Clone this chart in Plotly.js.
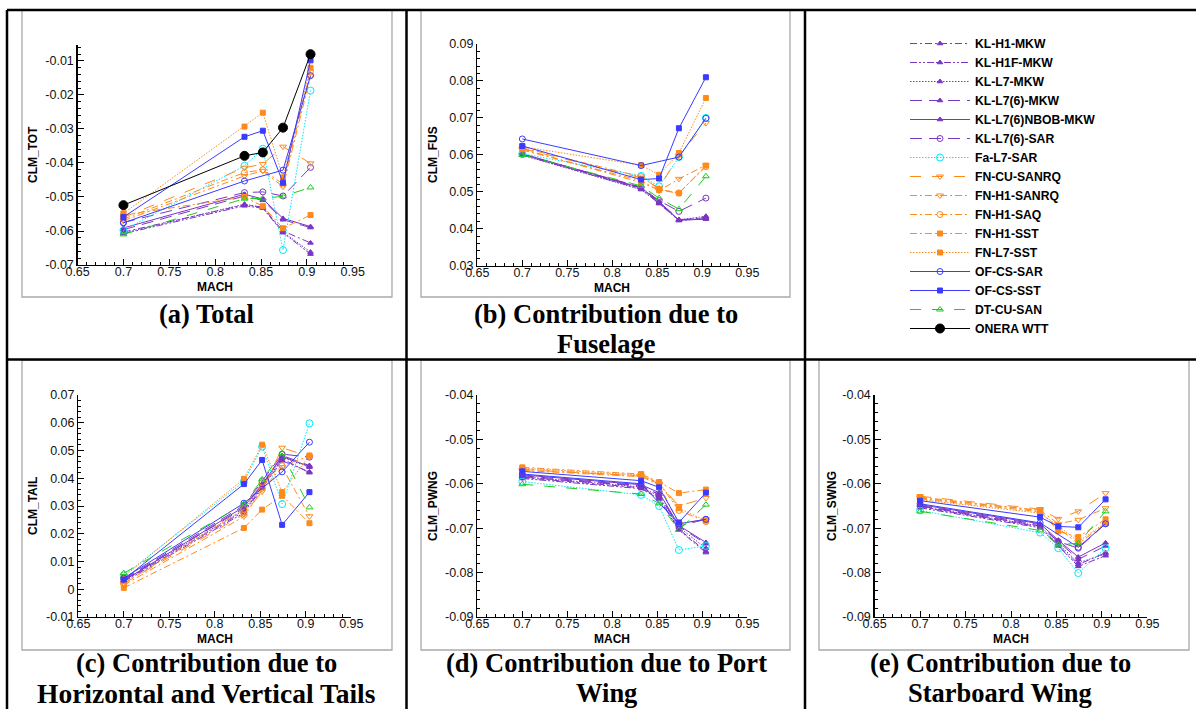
<!DOCTYPE html>
<html>
<head>
<meta charset="utf-8">
<script src="https://cdn.plot.ly/plotly-3.0.1.min.js"></script>
<style>
  html, body { margin: 0; padding: 0; background: #ffffff; }
  #chart { width: 1196px; height: 709px; }
</style>
</head>
<body>
<div id="chart"></div>
<script>
// Mach sweep shared by every panel
const mach = [0.7, 0.832, 0.852, 0.874, 0.904];

const seriesNames = [
  'KL-H1-MKW', 'KL-H1F-MKW', 'KL-L7-MKW', 'KL-L7(6)-MKW', 'KL-L7(6)NBOB-MKW',
  'KL-L7(6)-SAR', 'Fa-L7-SAR', 'FN-CU-SANRQ', 'FN-H1-SANRQ', 'FN-H1-SAQ',
  'FN-H1-SST', 'FN-L7-SST', 'OF-CS-SAR', 'OF-CS-SST', 'DT-CU-SAN', 'ONERA WTT'
];

// Pitching-moment coefficients, one row per entry of seriesNames
const clmTot = [
  [-0.0603, -0.0523, -0.0530, -0.0600, -0.0635],
  [-0.0608, -0.0526, -0.0533, -0.0605, -0.0668],
  [-0.0606, -0.0521, -0.0531, -0.0603, -0.0662],
  [-0.0596, -0.0497, -0.0510, -0.0567, -0.0590],
  [-0.0591, -0.0492, -0.0506, -0.0563, -0.0587],
  [-0.0575, -0.0487, -0.0485, -0.0497, -0.0413],
  [-0.0598, -0.0408, -0.0358, -0.0656, -0.0187],
  [-0.0560, -0.0414, -0.0403, -0.0352, -0.0401],
  [-0.0570, -0.0438, -0.0423, -0.0470, -0.0145],
  [-0.0565, -0.0428, -0.0420, -0.0462, -0.0130],
  [-0.0553, -0.0500, -0.0527, -0.0592, -0.0553],
  [-0.0548, -0.0293, -0.0252, -0.0442, -0.0120],
  [-0.0576, -0.0453, null,    -0.0421, -0.0143],
  [-0.0559, -0.0323, -0.0305, -0.0458, -0.0098],
  [-0.0610, -0.0505, -0.0504, -0.0498, -0.0472],
  [-0.0524, -0.0379, -0.0369, -0.0296, -0.0080]
];

const clmFus = [
  [0.0601, 0.0509, 0.0470, 0.0423, 0.0431],
  [0.0600, 0.0507, 0.0468, 0.0422, 0.0428],
  [0.0599, 0.0506, 0.0469, 0.0424, 0.0434],
  [0.0602, 0.0510, 0.0473, 0.0425, 0.0427],
  [0.0603, 0.0511, 0.0474, 0.0423, 0.0426],
  [0.0601, 0.0513, 0.0476, 0.0447, 0.0483],
  [0.0603, 0.0543, 0.0515, 0.0594, 0.0700],
  [0.0617, 0.0538, 0.0510, 0.0598, 0.0686],
  [0.0613, 0.0530, 0.0503, 0.0535, 0.0572],
  [0.0619, 0.0541, 0.0507, 0.0497, 0.0568],
  [0.0616, 0.0525, 0.0505, 0.0496, 0.0571],
  [0.0622, 0.0572, 0.0546, 0.0605, 0.0754],
  [0.0643, 0.0571, null,   0.0594, 0.0699],
  [0.0624, 0.0533, 0.0536, 0.0672, 0.0810],
  [0.0600, 0.0516, 0.0483, 0.0453, 0.0542],
  null
];

const clmTail = [
  [0.0030, 0.0280, 0.0368, 0.0470, 0.0420],
  [0.0027, 0.0275, 0.0364, 0.0463, 0.0423],
  [0.0032, 0.0285, 0.0371, 0.0475, 0.0440],
  [0.0034, 0.0292, 0.0376, 0.0482, 0.0446],
  [0.0031, 0.0297, 0.0379, 0.0478, 0.0443],
  [0.0036, 0.0302, 0.0390, 0.0487, 0.0476],
  [0.0050, 0.0388, 0.0514, 0.0307, 0.0598],
  [0.0021, 0.0270, 0.0352, 0.0510, 0.0478],
  [0.0015, 0.0262, 0.0360, 0.0440, 0.0263],
  [0.0020, 0.0288, 0.0385, 0.0445, 0.0480],
  [0.0005, 0.0221, 0.0287, 0.0337, 0.0238],
  [0.0045, 0.0398, 0.0521, 0.0350, 0.0482],
  [0.0040, 0.0310, null,   0.0423, 0.0530],
  [0.0035, 0.0379, 0.0466, 0.0232, 0.0350],
  [0.0058, 0.0307, 0.0396, 0.0490, 0.0295],
  null
];

const clmPwng = [
  [-0.0586, -0.0609, -0.0632, -0.0702, -0.0752],
  [-0.0588, -0.0611, -0.0634, -0.0704, -0.0755],
  [-0.0584, -0.0607, -0.0628, -0.0698, -0.0745],
  [-0.0582, -0.0604, -0.0624, -0.0696, -0.0735],
  [-0.0580, -0.0602, -0.0620, -0.0694, -0.0732],
  [-0.0585, -0.0605, -0.0625, -0.0695, -0.0680],
  [-0.0595, -0.0625, -0.0650, -0.0749, -0.0740],
  [-0.0568, -0.0583, -0.0600, -0.0650, -0.0632],
  [-0.0570, -0.0584, -0.0602, -0.0690, -0.0680],
  [-0.0567, -0.0582, -0.0599, -0.0660, -0.0685],
  [-0.0563, -0.0578, -0.0596, -0.0621, -0.0613],
  [-0.0565, -0.0580, -0.0598, -0.0655, -0.0683],
  [-0.0578, -0.0600, null,    -0.0690, -0.0680],
  [-0.0572, -0.0593, -0.0608, -0.0687, -0.0620],
  [-0.0601, -0.0623, -0.0644, -0.0704, -0.0647],
  null
];

const clmSwng = [
  [-0.0652, -0.0697, -0.0738, -0.0782, -0.0755],
  [-0.0654, -0.0699, -0.0740, -0.0786, -0.0762],
  [-0.0651, -0.0695, -0.0735, -0.0778, -0.0758],
  [-0.0649, -0.0692, -0.0730, -0.0770, -0.0740],
  [-0.0647, -0.0690, -0.0727, -0.0765, -0.0733],
  [-0.0650, -0.0695, -0.0730, -0.0745, -0.0690],
  [-0.0660, -0.0710, -0.0745, -0.0801, -0.0745],
  [-0.0628, -0.0657, -0.0679, -0.0662, -0.0621],
  [-0.0632, -0.0660, -0.0690, -0.0681, -0.0655],
  [-0.0634, -0.0663, -0.0700, -0.0735, -0.0690],
  [-0.0630, -0.0660, -0.0707, -0.0720, -0.0680],
  [-0.0636, -0.0666, -0.0695, -0.0730, -0.0688],
  [-0.0645, -0.0688, null,    -0.0743, -0.0690],
  [-0.0638, -0.0675, -0.0696, -0.0698, -0.0635],
  [-0.0662, -0.0705, -0.0737, -0.0734, -0.0662],
  null
];

// Tick labels
const machTicks = ['0.65', '0.7', '0.75', '0.8', '0.85', '0.9', '0.95'];
const totTicks  = ['-0.07', '-0.06', '-0.05', '-0.04', '-0.03', '-0.02', '-0.01'];
const fusTicks  = ['0.03', '0.04', '0.05', '0.06', '0.07', '0.08', '0.09'];
const tailTicks = ['-0.01', '0', '0.01', '0.02', '0.03', '0.04', '0.05', '0.06', '0.07'];
const wingTicks = ['-0.09', '-0.08', '-0.07', '-0.06', '-0.05', '-0.04'];

// Panel captions and axis titles
const captions = [
  ['(a) Total'],
  ['(b) Contribution due to', 'Fuselage'],
  ['(c) Contribution due to', 'Horizontal and Vertical Tails'],
  ['(d) Contribution due to Port', 'Wing'],
  ['(e) Contribution due to', 'Starboard Wing']
];
const yTitles = ['CLM_TOT', 'CLM_FUS', 'CLM_TAIL', 'CLM_PWNG', 'CLM_SWNG'];
const xTitle = 'MACH';

// ---------- styling ----------
const W = 1196, H = 709;
const px = x => x / W;
const py = y => 1 - y / H;

const PURPLE = '#7a36c4', CYAN = '#00e8ff', ORANGE = '#ff8a1c',
      BLUE = '#3b3bff', GREEN = '#1fcc1f', BLACK = '#000000';

const DASHDOT = '7px,3px,2px,3px';
const DASHDOTDOT = '7px,2px,2px,2px,2px,2px';
const DOTTED = '1.5px,1.5px';
const LONGDASH = '12px,7px';
const WIDEDASH = '11px,11px';

const styles = [
  { color: PURPLE, dash: DASHDOT,    symbol: 'triangle-up',        size: 5 },
  { color: PURPLE, dash: DASHDOTDOT, symbol: 'triangle-up',        size: 5 },
  { color: PURPLE, dash: DOTTED,     symbol: 'triangle-up',        size: 5 },
  { color: PURPLE, dash: LONGDASH,   symbol: 'triangle-up',        size: 5 },
  { color: PURPLE, dash: 'solid',    symbol: 'triangle-up',        size: 5 },
  { color: PURPLE, dash: LONGDASH,   symbol: 'circle-open',        size: 6 },
  { color: CYAN,   dash: DOTTED,     symbol: 'circle-open',        size: 7 },
  { color: ORANGE, dash: WIDEDASH,   symbol: 'triangle-down-open', size: 6 },
  { color: ORANGE, dash: DASHDOT,    symbol: 'triangle-down-open', size: 6 },
  { color: ORANGE, dash: DASHDOT,    symbol: 'circle-open',        size: 6 },
  { color: ORANGE, dash: DASHDOT,    symbol: 'square',             size: 5 },
  { color: ORANGE, dash: DOTTED,     symbol: 'square',             size: 5 },
  { color: BLUE,   dash: 'solid',    symbol: 'circle-open',        size: 6 },
  { color: BLUE,   dash: 'solid',    symbol: 'square',             size: 5 },
  { color: GREEN,  dash: WIDEDASH,   symbol: 'triangle-up-open',   size: 6 },
  { color: BLACK,  dash: 'solid',    symbol: 'circle',             size: 9 }
];

// Pixel boxes of the five plot areas: [left, right, top, bottom]
const panels = [
  { data: clmTot,  ticks: totTicks,  box: [77.6, 352.7, 45, 265],    yrange: [-0.07, -0.0053], title: [33, 155],  caption: [206.5, 314] },
  { data: clmFus,  ticks: fusTicks,  box: [477.3, 747.3, 44, 265.7], yrange: [0.03, 0.09],     title: [433, 155], caption: [606, 314] },
  { data: clmTail, ticks: tailTicks, box: [78.3, 351.3, 395, 617],   yrange: [-0.01, 0.07],    title: [33, 506],  caption: [206.5, 663] },
  { data: clmPwng, ticks: wingTicks, box: [477.3, 747.3, 395, 617],  yrange: [-0.09, -0.04],   title: [433, 506], caption: [606, 663] },
  { data: clmSwng, ticks: wingTicks, box: [874.6, 1147.4, 395, 617], yrange: [-0.09, -0.04],   title: [832, 506], caption: [1000, 663] }
];
// caption font size for each line
const captionSizes = [[26.5], [26.5, 26.5], [26.5, 27.5], [26.5, 26.5], [26.5, 26.5]];

const tickFont = { family: 'Liberation Sans, Arial, sans-serif', size: 12.5, color: '#111' };
const boldSans = { family: 'Liberation Sans, Arial, sans-serif', size: 12, color: '#000', weight: 'bold' };

const traces = [];
const layout = {
  width: W, height: H,
  margin: { l: 0, r: 0, t: 0, b: 0 },
  paper_bgcolor: '#ffffff',
  plot_bgcolor: 'rgba(0,0,0,0)',
  showlegend: true,
  legend: {
    x: px(905), y: py(29), xanchor: 'left', yanchor: 'top',
    font: { family: 'Liberation Sans, Arial, sans-serif', size: 12.2, color: '#000', weight: 'bold' },
    itemwidth: 60, tracegroupgap: 0, bgcolor: 'rgba(0,0,0,0)'
  },
  shapes: [],
  annotations: []
};

panels.forEach((p, i) => {
  const n = i + 1;
  const xa = 'x' + (n === 1 ? '' : n);
  const ya = 'y' + (n === 1 ? '' : n);
  const [l, r, t, b] = p.box;

  layout['xaxis' + (n === 1 ? '' : n)] = {
    domain: [px(l), px(r)], anchor: ya, range: [0.65, 0.95],
    tickvals: machTicks.map(Number), ticktext: machTicks,
    showline: true, linecolor: '#000', linewidth: 1.3, mirror: false,
    ticks: 'inside', ticklen: 6, tickwidth: 1, tickcolor: '#000', ticklabelstandoff: -5,
    minor: { ticks: 'inside', ticklen: 3, dtick: 0.01, tick0: 0.65, tickcolor: '#000', showgrid: false },
    showgrid: false, zeroline: false, tickfont: tickFont, fixedrange: true
  };
  layout['yaxis' + (n === 1 ? '' : n)] = {
    domain: [py(b), py(t)], anchor: xa, range: p.yrange,
    tickvals: p.ticks.map(Number), ticktext: p.ticks,
    showline: true, linecolor: '#000', linewidth: 1.3, mirror: false,
    ticks: 'inside', ticklen: 6, tickwidth: 1, tickcolor: '#000',
    minor: { ticks: 'inside', ticklen: 3, dtick: 0.002, tick0: 0, tickcolor: '#000', showgrid: false },
    showgrid: false, zeroline: false, tickfont: tickFont, fixedrange: true
  };

  p.data.forEach((row, s) => {
    if (!row) return;
    const st = styles[s];
    traces.push({
      type: 'scatter', mode: 'lines+markers',
      x: mach, y: row, xaxis: xa, yaxis: ya,
      name: seriesNames[s], legendgroup: seriesNames[s],
      showlegend: i === 0, connectgaps: true,
      line: { color: st.color, width: 1, dash: st.dash },
      marker: { symbol: st.symbol, size: st.size, color: st.color, line: { color: st.color, width: 1 } },
      hoverinfo: 'x+y+name'
    });
  });

  // axis titles
  layout.annotations.push({
    xref: 'paper', yref: 'paper', x: px(p.title[0]), y: py(p.title[1]),
    text: yTitles[i], textangle: -90, showarrow: false, font: boldSans,
    xanchor: 'center', yanchor: 'middle'
  });
  layout.annotations.push({
    xref: 'paper', yref: 'paper', x: px((l + r) / 2), y: py(b + 22),
    text: xTitle, showarrow: false, font: boldSans, xanchor: 'center', yanchor: 'middle'
  });

  // captions below each plot
  captions[i].forEach((line, k) => {
    layout.annotations.push({
      xref: 'paper', yref: 'paper', x: px(p.caption[0]), y: py(p.caption[1] + k * 30),
      text: '<b>' + line + '</b>', showarrow: false,
      font: { family: 'Liberation Serif, Times New Roman, serif', size: captionSizes[i][k], color: '#000' },
      xanchor: 'center', yanchor: 'middle', borderpad: 0
    });
  });
});

// Light frames around each plot
const frames = [[22, 392, 10, 297], [421, 790, 10, 297], [22, 392, 360, 650], [421, 790, 360, 650], [819, 1189, 360, 650]];
frames.forEach(f => {
  layout.shapes.push({
    type: 'rect', xref: 'paper', yref: 'paper', layer: 'below',
    x0: px(f[0]), x1: px(f[1]), y0: py(f[3]), y1: py(f[2]),
    line: { color: '#a9a9a9', width: 1.3 }, fillcolor: 'rgba(0,0,0,0)'
  });
});

// Table rules
const rules = [
  [7, 10, 1196, 10],    // top
  [7, 10, 7, 709],      // left
  [406.5, 10, 406.5, 709],
  [805, 10, 805, 709],
  [7, 359.5, 1196, 359.5]
];
rules.forEach(r => {
  layout.shapes.push({
    type: 'line', xref: 'paper', yref: 'paper', layer: 'above',
    x0: px(r[0]), y0: py(r[1]), x1: px(r[2]), y1: py(r[3]),
    line: { color: '#000', width: 2.5 }
  });
});

Plotly.newPlot('chart', traces, layout, { displayModeBar: false, staticPlot: true });
</script>
</body>
</html>
